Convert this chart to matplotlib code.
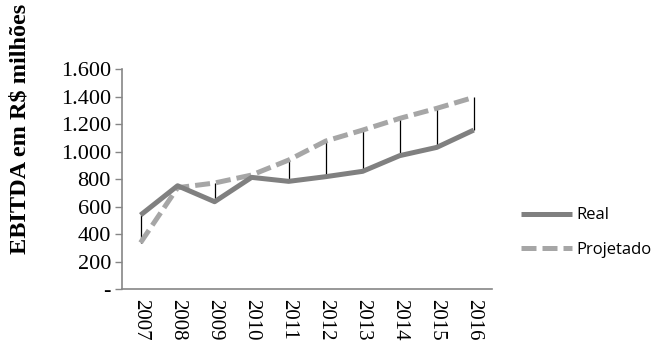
import matplotlib
matplotlib.use("Agg")
import matplotlib.pyplot as plt

anos = ["2007", "2008", "2009", "2010", "2011", "2012", "2013", "2014", "2015", "2016"]
real = [538, 751, 635, 812, 783, 817, 856, 970, 1030, 1156]
projetado = [337, 737, 771, 829, 938, 1076, 1156, 1241, 1314, 1394]
yticks = [0, 200, 400, 600, 800, 1000, 1200, 1400, 1600]
ytick_labels = ["-", "200", "400", "600", "800", "1.000", "1.200", "1.400", "1.600"]

fig = plt.figure(figsize=(6.67, 3.54), dpi=100)
ax = fig.add_axes([0.183, 0.1836, 0.555, 0.6214])

x = list(range(len(anos)))

# linhas de diferença (alta-baixa)
lo = [min(a, b) for a, b in zip(real, projetado)]
hi = [max(a, b) for a, b in zip(real, projetado)]
ax.vlines(x, lo, hi, color="black", linewidth=0.9, zorder=1)

ax.plot(x, real, color="#808080", linewidth=3.6, label="Real", zorder=3,
        solid_capstyle="butt")
ax.plot(x, projetado, color="#A6A6A6", linewidth=3.6, linestyle=(0, (3, 1.2)),
        label="Projetado", zorder=2, dash_capstyle="butt")

ax.set_xlim(-0.5, len(anos) - 0.5)
ax.set_ylim(0, 1600)
ax.set_yticks(yticks)
ax.set_yticklabels(ytick_labels, fontfamily="Liberation Serif", fontsize=16)
ax.set_xticks(x)
ax.set_xticklabels(anos, rotation=-90, fontfamily="Liberation Serif", fontsize=15)
ax.tick_params(axis="x", length=0, pad=7)
ax.tick_params(axis="y", length=5, color="#868686", width=1, pad=3)

for s in ["top", "right"]:
    ax.spines[s].set_visible(False)
for s in ["left", "bottom"]:
    ax.spines[s].set_color("#868686")
    ax.spines[s].set_linewidth(1.2)

fig.text(0.03, 0.635, "EBITDA em R$ milhões", rotation=90, ha="center", va="center",
         fontfamily="Liberation Serif", fontweight="bold", fontsize=17.5)

ax.legend(loc="center left", bbox_to_anchor=(0.758, 0.343), bbox_transform=fig.transFigure,
          frameon=False, prop={"family": "Open Sans", "size": 12},
          handlelength=3.1, handletextpad=0.25, labelspacing=1.1)

fig.savefig("out.png", dpi=100)
